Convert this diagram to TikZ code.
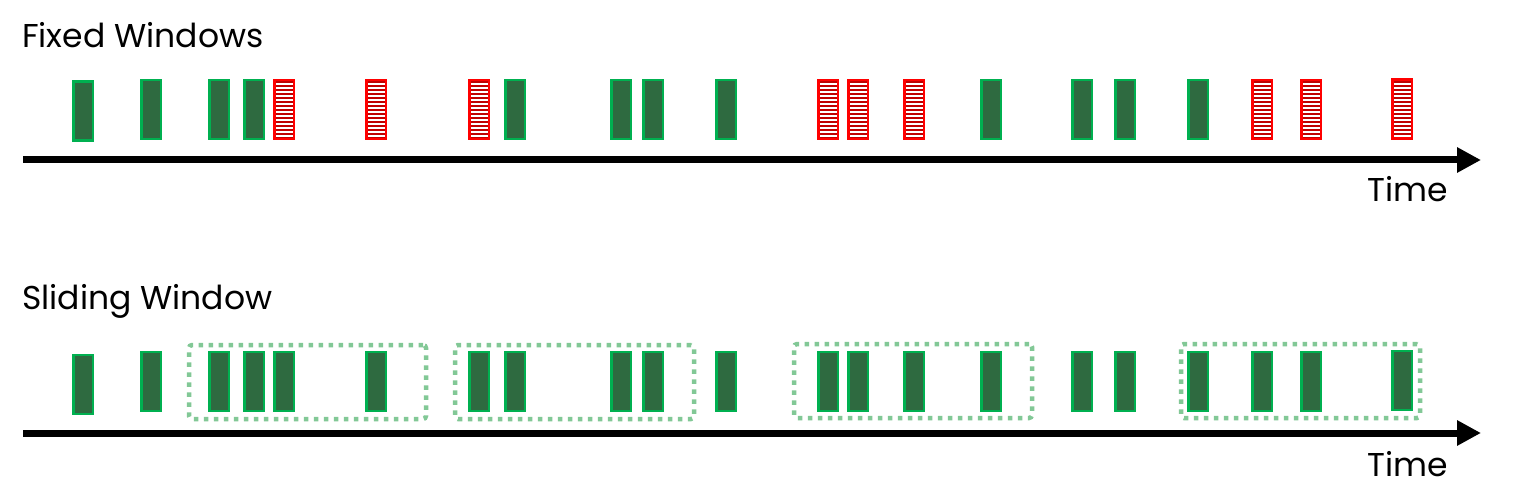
\documentclass[tikz,border=0pt]{standalone}
\usepackage{fontspec}
\setmainfont{Poppins}
\usetikzlibrary{arrows.meta}
\definecolor{barfill}{HTML}{2E6A40}
\definecolor{barline}{HTML}{00B050}
\definecolor{hatchred}{HTML}{C00000}
\definecolor{redline}{HTML}{FF0000}
\definecolor{boxgreen}{HTML}{82C896}
\tikzset{
  bar/.style={rectangle, inner sep=0pt, minimum width=19.5pt, minimum height=59pt, line width=2.5pt},
  gbar/.style={bar, draw=barline, fill=barfill},
  rbar/.style={bar, draw=redline, fill=hatchred,
    path picture={\foreach \k in {0,...,14}
      \fill[white] ([yshift={-(3.2+4*\k)*1pt}]path picture bounding box.north west) rectangle ++(40pt,-2pt);}},
  winbox/.style={rectangle, draw=boxgreen, line width=4.5pt, dash pattern=on 4.5pt off 5.5pt, rounded corners=3pt, inner sep=0pt, minimum height=74pt},
  timeline/.style={line width=7pt, -{Triangle[length=24pt,width=24pt]}},
  lab/.style={inner sep=0pt, anchor=base west, font=\fontsize{33}{38}\selectfont},
}
\begin{document}
\begin{tikzpicture}[x=1pt,y=-1pt]
\useasboundingbox[fill=white] (0,0) rectangle (1519,500);
% titles
\node[lab] (ttop) at (22,48) {Fixed Windows};
\node[lab] (tbot) at (22,309) {Sliding Window};
% windows
\node[winbox, minimum width=237pt] (w1) at (307.5,382) {};
\node[winbox, minimum width=239pt] (w2) at (574.5,382) {};
\node[winbox, minimum width=238pt] (w3) at (913,381) {};
\node[winbox, minimum width=239pt] (w4) at (1300.5,381) {};
% bars
\foreach \i/\x/\t/\dy in {1/72/g/1.5,2/140/g/0,3/208/g/0,4/243/g/0,5/273/r/0,6/365/r/0,7/468/r/0,
  8/504/g/0,9/610/g/0,10/642/g/0,11/715/g/0,12/817/r/0,13/847/r/0,14/903/r/0,15/980/g/0,
  16/1071/g/0,17/1114/g/0,18/1187/g/0,19/1251/r/0,20/1300/r/0,21/1391/r/-0.5}{
  \node[\t bar] (t\i) at (\x+11,109.5+\dy) {};
  \node[gbar] (b\i) at (\x+11,381.5+\dy+\dy) {};
}
% time axes
\coordinate (a1s) at (23,160);
\coordinate (a1e) at (1481,160);
\coordinate (a2s) at (23,433);
\coordinate (a2e) at (1481,433);
\draw[timeline] (a1s) -- (a1e);
\draw[timeline] (a2s) -- (a2e);
\node[lab, anchor=base east] (time1) at (1448,201) {Time};
\node[lab, anchor=base east] (time2) at (1448,476) {Time};
\end{tikzpicture}
\end{document}
